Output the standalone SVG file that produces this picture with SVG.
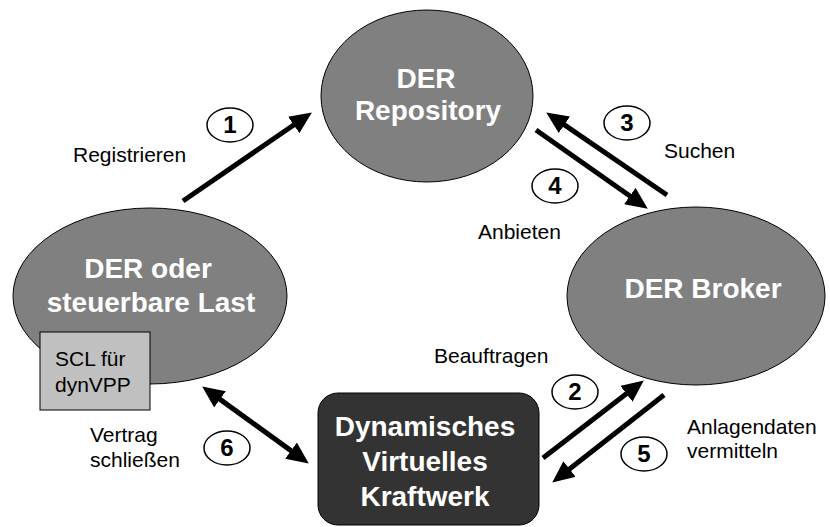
<svg xmlns="http://www.w3.org/2000/svg" width="830" height="527" viewBox="0 0 830 527">
<defs>
<marker id="ah" markerUnits="userSpaceOnUse" markerWidth="22" markerHeight="20" refX="11" refY="10" orient="auto-start-reverse" viewBox="0 0 22 20">
<path d="M0,0 L22,10 L0,20 z" fill="#000"/>
</marker>
<style>
.node{fill:#808080;stroke:#000;stroke-width:1}
.title{font-family:"Liberation Sans",Arial,sans-serif;font-weight:bold;font-size:28px;fill:#fff;text-anchor:middle}
.lbl{font-family:"Liberation Sans",Arial,sans-serif;font-size:21px;fill:#000}
.num{font-family:"Liberation Sans",Arial,sans-serif;font-weight:bold;font-size:24px;fill:#000;text-anchor:middle}
.circ{fill:#fff;stroke:#000;stroke-width:1.5}
.arr{stroke:#000;stroke-width:5;fill:none;marker-end:url(#ah)}
</style>
</defs>
<rect width="830" height="527" fill="#fff"/>
<g id="repository">
<ellipse class="node" cx="427" cy="96" rx="106" ry="86"/>
<text class="title" x="426" y="88">DER</text>
<text class="title" x="428" y="120">Repository</text>
</g>
<g id="der-last">
<ellipse class="node" cx="150" cy="296" rx="137" ry="88"/>
<text class="title" x="148" y="278">DER oder</text>
<text class="title" x="151" y="312">steuerbare Last</text>
</g>
<g id="scl">
<rect x="40" y="332" width="110" height="78" fill="#c0c0c0" stroke="#000" stroke-width="1"/>
<text class="lbl" x="55" y="366">SCL für</text>
<text class="lbl" x="55" y="392">dynVPP</text>
</g>
<g id="broker">
<ellipse class="node" cx="696" cy="296" rx="129" ry="89"/>
<text class="title" x="703" y="298">DER Broker</text>
</g>
<g id="vpp">
<rect x="318" y="393" width="221" height="132" rx="20" ry="20" fill="#333333" stroke="#000" stroke-width="1"/>
<text class="title" x="425" y="436">Dynamisches</text>
<text class="title" x="425" y="471">Virtuelles</text>
<text class="title" x="425" y="506">Kraftwerk</text>
</g>
<g id="connectors">
<line class="arr" x1="183" y1="201" x2="302.8" y2="118.7"/>
<line class="arr" x1="667" y1="195" x2="555.3" y2="118.6"/>
<line class="arr" x1="536" y1="130" x2="638.8" y2="202.3"/>
<line class="arr" x1="543" y1="458" x2="635.1" y2="387.1"/>
<line class="arr" x1="664" y1="395" x2="560.9" y2="475.8"/>
<line class="arr" x1="211.1" y1="392.9" x2="299.9" y2="457.1" marker-start="url(#ah)"/>
</g>
<g id="labels">
<text class="lbl" x="73" y="162">Registrieren</text>
<text class="lbl" x="664" y="158">Suchen</text>
<text class="lbl" x="478" y="239">Anbieten</text>
<text class="lbl" x="434" y="363">Beauftragen</text>
<text class="lbl" x="90" y="442">Vertrag</text>
<text class="lbl" x="90" y="467">schließen</text>
<text class="lbl" x="687" y="434">Anlagendaten</text>
<text class="lbl" x="687" y="458">vermitteln</text>
</g>
<g id="steps">
<ellipse class="circ" cx="230" cy="125" rx="23" ry="17"/><text class="num" x="230" y="133">1</text>
<ellipse class="circ" cx="575" cy="392" rx="23" ry="17"/><text class="num" x="575" y="400">2</text>
<ellipse class="circ" cx="627" cy="123" rx="23" ry="17"/><text class="num" x="627" y="131">3</text>
<ellipse class="circ" cx="555" cy="186" rx="23" ry="17"/><text class="num" x="555" y="194">4</text>
<ellipse class="circ" cx="644" cy="454" rx="23" ry="17"/><text class="num" x="644" y="462">5</text>
<ellipse class="circ" cx="227" cy="448" rx="23" ry="17"/><text class="num" x="227" y="456">6</text>
</g>
</svg>
